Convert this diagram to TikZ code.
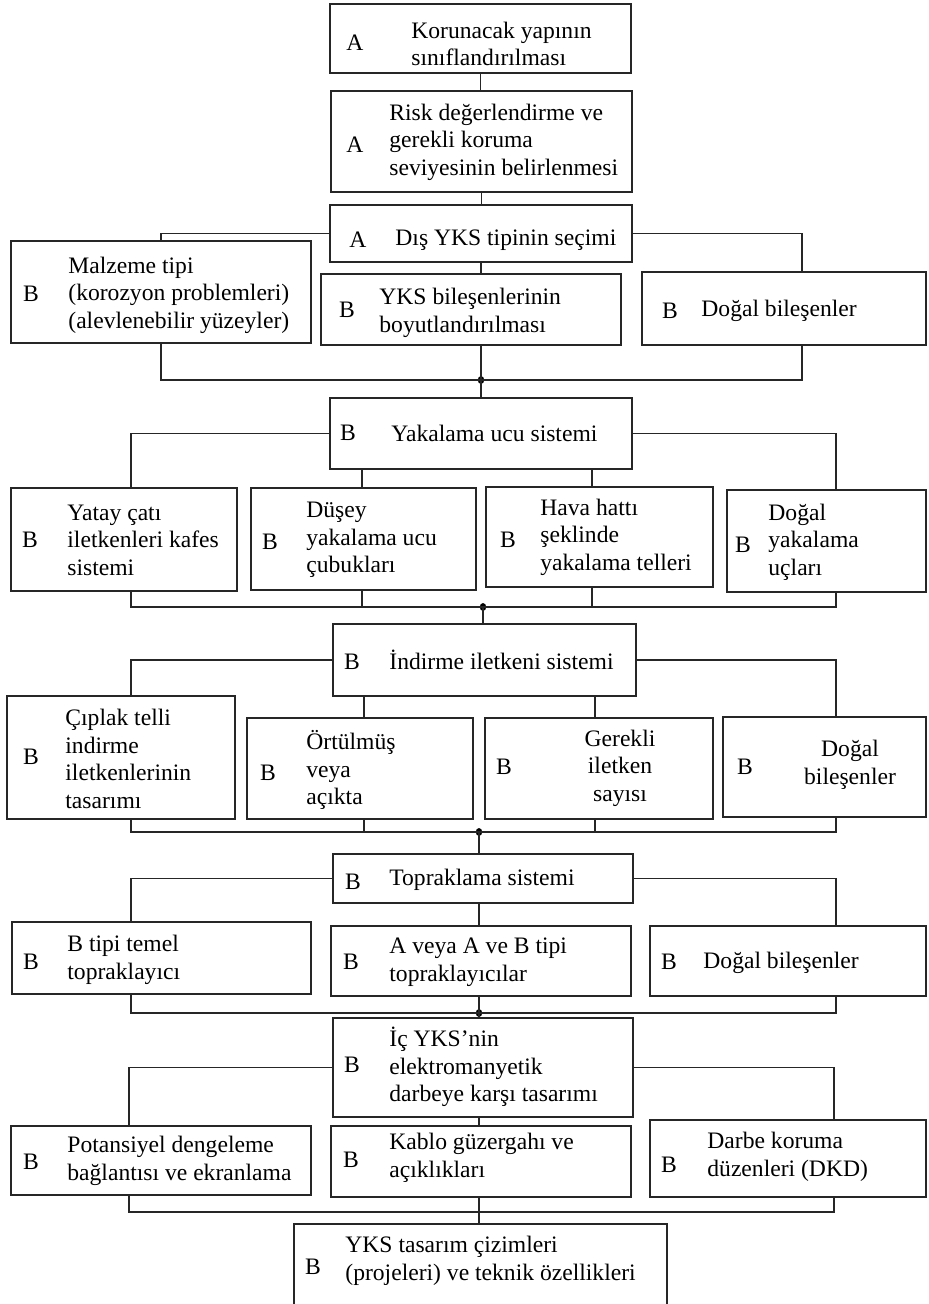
\documentclass[tikz,border=0pt]{standalone}
\usepackage{fontspec}
\setmainfont{Liberation Serif}
\usetikzlibrary{fit,calc}
\tikzset{
  frame/.style={draw=black!85, line width=0.55pt, inner sep=0pt, rectangle},
  conn/.style={draw=black!85, line width=0.55pt},
  tx/.style={font=\fontsize{11.8}{13.8}\selectfont, align=left, inner sep=0pt, anchor=west},
  txc/.style={font=\fontsize{11.8}{13.8}\selectfont, align=center, inner sep=0pt},
  lab/.style={font=\fontsize{11.8}{13.8}\selectfont, inner sep=0pt},
  jdot/.style={ellipse, fill=black, inner sep=0pt, minimum width=3.2pt, minimum height=4pt}
}
\usetikzlibrary{shapes.geometric}
\newcommand\mkbox[5]{\node[frame, fit={(#2,#3) (#4,#5)}] (#1) {};}
\begin{document}
\begin{tikzpicture}[x=0.5pt,y=-0.5pt]
\useasboundingbox (0,0) rectangle (928,1304);
\fill[white] (0,0) rectangle (928,1304);

% ---------- boxes ----------
\mkbox{b1}{330}{4}{631}{73}
\mkbox{b2}{331}{91}{632}{192}
\mkbox{b3}{330}{205}{632}{262}
\mkbox{r1l}{11}{241}{311}{343}
\mkbox{r1m}{321}{274}{621}{345}
\mkbox{r1r}{642}{272}{926}{345}
\mkbox{b4}{330}{398}{632}{469}
\mkbox{r2a}{11}{488}{237}{591}
\mkbox{r2b}{251}{488}{476}{590}
\mkbox{r2c}{486}{487}{713}{587}
\mkbox{r2d}{727}{490}{926}{592}
\mkbox{b5}{333}{624}{636}{696}
\mkbox{r3a}{7}{696}{235}{819}
\mkbox{r3b}{247}{718}{473}{819}
\mkbox{r3c}{485}{718}{713}{819}
\mkbox{r3d}{723}{717}{926}{817}
\mkbox{b6}{333}{854}{633}{903}
\mkbox{r4a}{12}{922}{311}{994}
\mkbox{r4b}{331}{926}{631}{996}
\mkbox{r4c}{650}{926}{926}{996}
\mkbox{b7}{333}{1018}{633}{1117}
\mkbox{r5a}{11}{1126}{311}{1195}
\mkbox{r5b}{331}{1126}{631}{1197}
\mkbox{r5c}{650}{1120}{926}{1197}
\mkbox{b8}{294}{1224}{667}{1330}

% ---------- texts ----------
\node[lab] (b1A) at (355,43) {A};
\node[tx] (b1t) at (411,44) {Korunacak yapının\\sınıflandırılması};
\node[lab] (b2A) at (355,145) {A};
\node[tx] (b2t) at (389,142) {Risk değerlendirme ve\\gerekli koruma\\seviyesinin belirlenmesi};
\node[lab] (b3A) at (358,240) {A};
\node[tx] (b3t) at (395,240) {Dış YKS tipinin seçimi};

\node[lab] (r1lB) at (31,294) {B};
\node[tx] (r1lt) at (68,295) {Malzeme tipi\\(korozyon problemleri)\\(alevlenebilir yüzeyler)};
\node[lab] (r1mB) at (347,310) {B};
\node[tx] (r1mt) at (379,313) {YKS bileşenlerinin\\boyutlandırılması};
\node[lab] (r1rB) at (670,311) {B};
\node[tx] (r1rt) at (701,311) {Doğal bileşenler};

\node[lab] (b4B) at (348,433) {B};
\node[tx] (b4t) at (391,433) {Yakalama ucu sistemi};

\node[lab] (r2aB) at (30,540) {B};
\node[tx] (r2at) at (67,540) {Yatay çatı\\iletkenleri kafes\\sistemi};
\node[lab] (r2bB) at (270,542) {B};
\node[tx] (r2bt) at (306,540) {Düşey\\yakalama ucu\\çubukları};
\node[lab] (r2cB) at (508,540) {B};
\node[tx] (r2ct) at (540,537) {Hava hattı\\şeklinde\\yakalama telleri};
\node[lab] (r2dB) at (743,545) {B};
\node[tx] (r2dt) at (768,542) {Doğal\\yakalama\\uçları};

\node[lab] (b5B) at (352,662) {B};
\node[tx] (b5t) at (389,660) {İndirme iletkeni sistemi};

\node[lab] (r3aB) at (31,757) {B};
\node[tx] (r3at) at (65,759) {Çıplak telli\\indirme\\iletkenlerinin\\tasarımı};
\node[lab] (r3bB) at (268,773) {B};
\node[tx] (r3bt) at (306,770) {Örtülmüş\\veya\\açıkta};
\node[lab] (r3cB) at (504,767) {B};
\node[txc] (r3ct) at (620,768) {Gerekli\\iletken\\sayısı};
\node[lab] (r3dB) at (745,767) {B};
\node[txc] (r3dt) at (850,765) {Doğal\\bileşenler};

\node[lab] (b6B) at (353,882) {B};
\node[tx] (b6t) at (389,880) {Topraklama sistemi};

\node[lab] (r4aB) at (31,962) {B};
\node[tx] (r4at) at (67,960) {B tipi temel\\topraklayıcı};
\node[lab] (r4bB) at (351,962) {B};
\node[tx] (r4bt) at (389,962) {A veya A ve B tipi\\topraklayıcılar};
\node[lab] (r4cB) at (669,962) {B};
\node[tx] (r4ct) at (703,963) {Doğal bileşenler};

\node[lab] (b7B) at (352,1065) {B};
\node[tx] (b7t) at (389,1067) {İç YKS’nin\\elektromanyetik\\darbeye karşı tasarımı};

\node[lab] (r5aB) at (31,1162) {B};
\node[tx] (r5at) at (67,1161) {Potansiyel dengeleme\\bağlantısı ve ekranlama};
\node[lab] (r5bB) at (351,1160) {B};
\node[tx] (r5bt) at (389,1158) {Kablo güzergahı ve\\açıklıkları};
\node[lab] (r5cB) at (669,1165) {B};
\node[tx] (r5ct) at (707,1157) {Darbe koruma\\düzenleri (DKD)};

\node[lab] (b8B) at (313,1267) {B};
\node[tx] (b8t) at (345,1261) {YKS tasarım çizimleri\\(projeleri) ve teknik özellikleri};

% ---------- junction dots / coordinates ----------
\node[jdot] (d1) at (481,380) {};
\node[jdot] (d2) at (483,607) {};
\node[jdot] (d3) at (479,832) {};
\node[jdot] (d4) at (479,1013) {};
\coordinate (c5) at (479,1212);

\coordinate (k1r) at (802,0);
\coordinate (kl) at (131,0);
\coordinate (kr) at (836,0);
\coordinate (k2b) at (362,0);
\coordinate (k2c) at (592,0);
\coordinate (k3b) at (364,0);
\coordinate (k3c) at (595,0);
\coordinate (k5l) at (129,0);
\coordinate (k5r) at (834,0);

% ---------- connectors ----------
\draw[conn] (b1.south) -- (b1.south |- b2.north);
\draw[conn] (b2.south) -- (b2.south |- b3.north);
% level 1
\draw[conn] (b3.west) -| (r1l.north);
\draw[conn] (b3.east) -| (k1r |- r1r.north);
\draw[conn] (b3.south) -- (b3.south |- r1m.north);
\draw[conn] (r1l.south) |- (d1.center) -| (k1r |- r1r.south);
\draw[conn] (d1.center |- r1m.south) -- (d1.center) -- (d1.center |- b4.north);
% level 2
\draw[conn] (b4.west) -| (kl |- r2a.north);
\draw[conn] (b4.east) -| (kr |- r2d.north);
\draw[conn] (k2b |- b4.south) -- (k2b |- r2b.north);
\draw[conn] (k2c |- b4.south) -- (k2c |- r2c.north);
\draw[conn] (kl |- r2a.south) |- (d2.center) -| (kr |- r2d.south);
\draw[conn] (k2b |- r2b.south) -- (k2b |- d2.center);
\draw[conn] (k2c |- r2c.south) -- (k2c |- d2.center);
\draw[conn] (d2.center) -- (d2.center |- b5.north);
% level 3
\draw[conn] (b5.west) -| (kl |- r3a.north);
\draw[conn] (b5.east) -| (kr |- r3d.north);
\draw[conn] (k3b |- b5.south) -- (k3b |- r3b.north);
\draw[conn] (k3c |- b5.south) -- (k3c |- r3c.north);
\draw[conn] (kl |- r3a.south) |- (d3.center) -| (kr |- r3d.south);
\draw[conn] (k3b |- r3b.south) -- (k3b |- d3.center);
\draw[conn] (k3c |- r3c.south) -- (k3c |- d3.center);
\draw[conn] (d3.center) -- (d3.center |- b6.north);
% level 4
\draw[conn] (b6.west) -| (kl |- r4a.north);
\draw[conn] (b6.east) -| (kr |- r4c.north);
\draw[conn] (d3.center |- b6.south) -- (d3.center |- r4b.north);
\draw[conn] (kl |- r4a.south) |- (d4.center) -| (kr |- r4c.south);
\draw[conn] (d4.center |- r4b.south) -- (d4.center) -- (d4.center |- b7.north);
% level 5
\draw[conn] (b7.west) -| (k5l |- r5a.north);
\draw[conn] (b7.east) -| (k5r |- r5c.north);
\draw[conn] (d4.center |- b7.south) -- (d4.center |- r5b.north);
\draw[conn] (k5l |- r5a.south) |- (c5) -| (k5r |- r5c.south);
\draw[conn] (c5 |- r5b.south) -- (c5) -- (c5 |- b8.north);
\end{tikzpicture}
\end{document}
